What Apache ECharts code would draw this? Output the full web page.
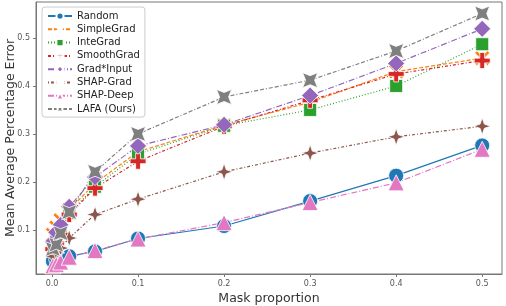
<!DOCTYPE html>
<html><head><meta charset="utf-8">
<script src="https://cdn.jsdelivr.net/npm/echarts@6/dist/echarts.min.js"></script>
<style>html,body{margin:0;padding:0;background:#fff}#c{width:506px;height:306px}</style>
</head><body><div id="c"></div>
<script>
const maskProportion = [0.001, 0.005, 0.01, 0.02, 0.05, 0.1, 0.2, 0.3, 0.4, 0.5];
const xTicks = [0, 0.1, 0.2, 0.3, 0.4, 0.5];
const yTicks = [0.1, 0.2, 0.3, 0.4, 0.5];
const random     = [0.035, 0.038, 0.042, 0.045, 0.055, 0.082, 0.108, 0.160, 0.213, 0.276];
const simpleGrad = [0.090, 0.105, 0.120, 0.142, 0.197, 0.263, 0.318, 0.366, 0.430, 0.458];
const inteGrad   = [0.065, 0.080, 0.100, 0.135, 0.190, 0.258, 0.317, 0.350, 0.400, 0.487];
const smoothGrad = [0.060, 0.072, 0.090, 0.132, 0.187, 0.243, 0.316, 0.370, 0.425, 0.453];
const gradInput  = [0.075, 0.095, 0.110, 0.148, 0.210, 0.275, 0.319, 0.380, 0.447, 0.519];
const shapGrad   = [0.045, 0.052, 0.062, 0.083, 0.132, 0.164, 0.221, 0.260, 0.294, 0.316];
const shapDeep   = [0.025, 0.028, 0.033, 0.043, 0.057, 0.081, 0.115, 0.157, 0.198, 0.268];
const lafa       = [0.060, 0.069, 0.093, 0.137, 0.221, 0.300, 0.377, 0.412, 0.473, 0.551];

const SYM = {
  plus: 'path://M-3,-10 L3,-10 L3,-3 L10,-3 L10,3 L3,3 L3,10 L-3,10 L-3,3 L-10,3 L-10,-3 L-3,-3 Z',
  x: 'path://M-7,-10 L0,-3 L7,-10 L10,-7 L3,0 L10,7 L7,10 L0,3 L-7,10 L-10,7 L-3,0 L-10,-7 Z',
  star4: 'path://M0,-10 L2.5,-2.5 L10,0 L2.5,2.5 L0,10 L-2.5,2.5 L-10,0 L-2.5,-2.5 Z',
  starX: 'path://M-10,-10 L0,-6 L10,-10 L6,0 L10,10 L0,6 L-10,10 L-6,0 Z'
};

const defs = [
  {name:'Random', data:random, color:'#1f77b4', type:'solid', symbol:'circle', size:15},
  {name:'SimpleGrad', data:simpleGrad, color:'#ff7f0e', type:[4,2], symbol:SYM.x, size:15},
  {name:'InteGrad', data:inteGrad, color:'#2ca02c', type:[1,2], symbol:'rect', size:13},
  {name:'SmoothGrad', data:smoothGrad, color:'#d62728', type:[3,2,1,2], symbol:SYM.plus, size:16},
  {name:'Grad*Input', data:gradInput, color:'#9467bd', type:[6,2,1,2], symbol:'diamond', size:17},
  {name:'SHAP-Grad', data:shapGrad, color:'#8c564b', type:[1,2,3,2], symbol:SYM.star4, size:17},
  {name:'SHAP-Deep', data:shapDeep, color:'#e377c2', type:[6,2,1,2], symbol:'triangle', size:16},
  {name:'LAFA (Ours)', data:lafa, color:'#7f7f7f', type:[4,2,4,2,1,2], symbol:SYM.starX, size:15}
];

const series = defs.map(d => ({
  name: d.name, type: 'line',
  data: maskProportion.map((x, i) => [x, d.data[i]]),
  symbol: d.symbol, symbolSize: d.size, showAllSymbol: true,
  lineStyle: {color: d.color, width: 1.2, type: d.type},
  itemStyle: {color: d.color, borderColor: '#fff', borderWidth: 0.8, opacity: 1},
  emphasis: {disabled: true}, animation: false, z: 2
}));

const chart = echarts.init(document.getElementById('c'), null, {renderer: 'canvas'});
chart.setOption({
  animation: false,
  backgroundColor: '#fff',
  grid: {left: 36, right: 4, top: 2, bottom: 32, containLabel: false, outerBoundsMode: 'none', show: true, borderColor: '#777', borderWidth: 1},
  legend: {
    data: defs.map(d => d.name), orient: 'vertical', left: 42, top: 7,
    backgroundColor: '#fff', borderColor: '#ccc', borderWidth: 1, borderRadius: 3,
    padding: [4, 5, 3, 5], itemGap: 3.3, itemWidth: 24, itemHeight: 9,
    textStyle: {fontFamily: 'DejaVu Sans', fontSize: 10, color: '#222', padding: [0, 0, 0, 0]}
  },
  xAxis: {
    type: 'value', min: -0.0186, max: 0.523,
    name: 'Mask proportion', nameLocation: 'middle', nameGap: 18, nameMoveOverlap: false,
    nameTextStyle: {fontFamily: 'DejaVu Sans', fontSize: 12.5, color: '#333'},
    axisLine: {show: true, onZero: false, lineStyle: {color: '#777'}},
    axisTick: {show: true, length: 3, lineStyle: {color: '#777'}, customValues: xTicks},
    axisLabel: {fontFamily: 'DejaVu Sans', fontSize: 8, color: '#555', margin: 6, customValues: xTicks, formatter: v => v.toFixed(1)},
    splitLine: {show: false}
  },
  yAxis: {
    type: 'value', min: 0.008, max: 0.575,
    name: 'Mean Average Percentage Error', nameLocation: 'middle', nameGap: 19, nameMoveOverlap: false,
    nameTextStyle: {fontFamily: 'DejaVu Sans', fontSize: 12.5, color: '#333'},
    axisLine: {show: true, onZero: false, lineStyle: {color: '#777'}},
    axisTick: {show: true, length: 3, lineStyle: {color: '#777'}, customValues: yTicks},
    axisLabel: {fontFamily: 'DejaVu Sans', fontSize: 8, color: '#555', margin: 6, customValues: yTicks, formatter: v => v.toFixed(1)},
    splitLine: {show: false}
  },
  series: series
});
</script>
</body></html>
